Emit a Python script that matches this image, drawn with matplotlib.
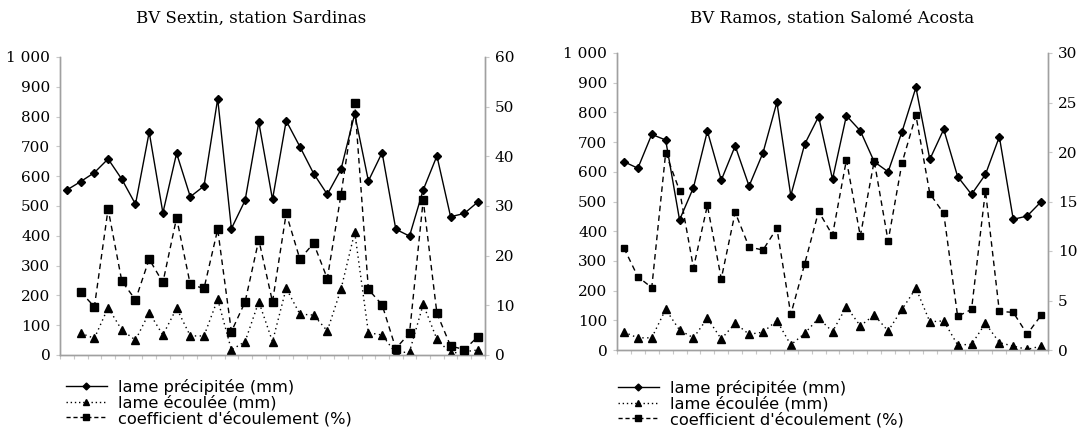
import numpy as np
import matplotlib.pyplot as plt
from matplotlib.lines import Line2D

# ---------------------------------------------------------------
# data (31 consecutive years per station)
# ---------------------------------------------------------------
nan = np.nan

sard_precip = [554, 582, 612, 658, 590, 506, 748, 477, 677, 531, 567, 860, 424, 519, 781, 522,
               786, 699, 609, 539, 623, 809, 584, 679, 422, 399, 554, 668, 464, 475, 514]
sard_runoff = [nan, 73, 56, 159, 84, 50, 142, 67, 157, 64, 64, 187, 17, 45, 179, 45,
               224, 137, 134, 81, 221, 412, 75, 67, 6, 11, 170, 53, 6, 11, 17]
sard_coef = [nan, 12.7, 9.7, 29.4, 14.9, 11.1, 19.3, 14.6, 27.6, 14.2, 13.4, 25.3, 4.7, 10.7, 23.2, 10.7,
             28.5, 19.3, 22.5, 15.4, 32.3, 50.7, 13.2, 10.1, 1.3, 4.4, 31.2, 8.4, 1.8, 1.1, 3.7]

salo_precip = [634, 612, 726, 707, 438, 547, 737, 572, 687, 552, 664, 834, 520, 693, 786, 575,
               789, 738, 634, 600, 735, 884, 642, 743, 584, 524, 591, 718, 440, 451, 499]
salo_runoff = [60, 41, 41, 137, 67, 41, 107, 37, 90, 53, 60, 99, 17, 56, 107, 62,
               146, 81, 118, 64, 137, 208, 95, 98, 17, 19, 90, 25, 13, 2, 13]
salo_coef = [10.3, 7.4, 6.3, 19.9, 16.1, 8.3, 14.6, 7.2, 13.9, 10.4, 10.1, 12.3, 3.6, 8.7, 14.0, 11.6,
             19.2, 11.5, 19.1, 11.0, 18.9, 23.7, 15.8, 13.8, 3.4, 4.1, 16.1, 3.9, 3.8, 1.6, 3.5]

mm_ticks = [0, 100, 200, 300, 400, 500, 600, 700, 800, 900, 1000]
mm_labels = ['0', '100', '200', '300', '400', '500', '600', '700', '800', '900', '1 000']

titles = ['BV Sextin, station Sardinas', 'BV Ramos, station Salomé Acosta']
legend_labels = ['lame précipitée (mm)', 'lame écoulée (mm)', "coefficient d'écoulement (%)"]

SERIF = 'DejaVu Serif'
SANS = 'DejaVu Sans'
GRAY = '#a0a0a0'


def style_axes(ax, ax2, coef_max, coef_step, xlim):
    n = len(sard_precip)
    ax.set_xlim(*xlim)
    ax.set_ylim(0, 1000)
    ax2.set_ylim(0, coef_max)
    ax.set_yticks(mm_ticks)
    ax.set_yticklabels(mm_labels, fontfamily=SERIF, fontsize=11)
    ax2.set_yticks(np.arange(0, coef_max + 1, coef_step))
    ax2.set_yticklabels([str(int(v)) for v in np.arange(0, coef_max + 1, coef_step)],
                        fontfamily=SERIF, fontsize=11)
    ax.set_xticks(np.arange(n + 1) - 0.5)
    ax.set_xticklabels([])
    for a in (ax, ax2):
        a.spines['top'].set_visible(False)
        for s in ('left', 'right', 'bottom'):
            a.spines[s].set_color(GRAY)
            a.spines[s].set_linewidth(1.0)
        a.tick_params(colors='#c8c8c8', labelcolor='black', length=3, width=0.8)
    ax.tick_params(axis='y', pad=4)
    ax2.tick_params(axis='y', pad=4)


def draw(ax, precip, runoff, coef, sq_size):
    x = np.arange(len(precip))
    ax2 = ax.twinx()
    ax.plot(x, precip, color='black', lw=1.0, marker='D', ms=4.2, zorder=3)
    ax.plot(x, runoff, color='black', lw=1.0, ls=(0, (1, 2.5)), marker='^', ms=5.5, zorder=3)
    ax2.plot(x, coef, color='black', lw=1.0, ls=(0, (4, 3)), marker='s', ms=sq_size, zorder=3)
    return ax2


fig = plt.figure(figsize=(10.8, 4.41), dpi=100)

# left panel
ax1 = fig.add_axes([60 / 1080, 86 / 441, 425 / 1080, 298 / 441])
ax1b = draw(ax1, sard_precip, sard_runoff, sard_coef, 6)
style_axes(ax1, ax1b, 60, 10, (-0.51, 30.51))

# right panel
ax3 = fig.add_axes([617 / 1080, 91 / 441, 431 / 1080, 297 / 441])
ax3b = draw(ax3, salo_precip, salo_runoff, salo_coef, 5)
style_axes(ax3, ax3b, 30, 5, (-0.4, 30.4))

fig.text(251 / 1080, 1 - 18 / 441, titles[0], ha='center', va='center',
         fontfamily=SERIF, fontsize=12)
fig.text(832 / 1080, 1 - 18 / 441, titles[1], ha='center', va='center',
         fontfamily=SERIF, fontsize=12)

handles = [
    Line2D([], [], color='black', lw=1.0, marker='D', ms=3.5),
    Line2D([], [], color='black', lw=1.0, ls=(0, (1, 2)), marker='^', ms=4),
    Line2D([], [], color='black', lw=1.0, ls=(0, (3, 2)), marker='s', ms=4.5),
]
for lx, ly in ((58, 371), (610, 372)):
    fig.legend(handles, legend_labels, loc='upper left',
               bbox_to_anchor=(lx / 1080, 1 - ly / 441), frameon=False,
               prop={'family': SANS, 'size': 11.7}, handlelength=2.5,
               handletextpad=0.7, labelspacing=0.0, borderpad=0)

plt.savefig('out.png', dpi=100)
